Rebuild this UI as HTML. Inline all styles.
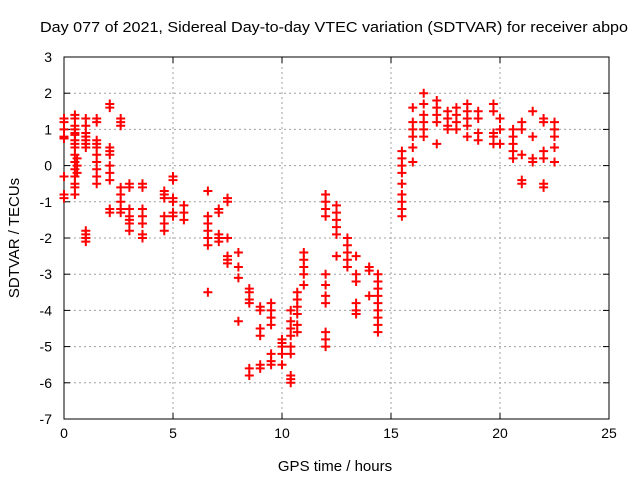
<!DOCTYPE html>
<html><head><meta charset="utf-8"><style>
body{margin:0;background:#fff}
svg{display:block;font-family:"Liberation Sans",sans-serif}
</style></head><body>
<svg id="c" width="640" height="480"></svg>
<script>
const xTicks=[0,5,10,15,20,25];
const yTicks=[3,2,1,0,-1,-2,-3,-4,-5,-6,-7];
const times=[0,0,0,0,0,0,0,0,
0.5,0.5,0.5,0.5,0.5,0.5,0.5,0.5,0.5,0.5,0.5,0.5,0.5,0.5,0.5,0.5,0.6,0.6,0.6,
1.0,1.0,1.0,1.0,1.0,1.0,1.0,1.0,1.0,1.0,1.0,
1.5,1.5,1.5,1.5,1.5,1.5,1.5,1.5,1.5,1.5,
2.1,2.1,2.1,2.1,2.1,2.1,2.1,2.1,2.1,2.1,
2.6,2.6,2.6,2.6,2.6,2.6,2.6,2.6,
3.0,3.0,3.0,3.0,3.0,3.0,3.0,
3.6,3.6,3.6,3.6,3.6,3.6,3.6,
4.6,4.6,4.6,4.6,4.6,4.6,
5.0,5.0,5.0,5.0,5.0,5.0,
5.5,5.5,5.5,
6.6,6.6,6.6,6.6,6.6,6.6,6.6,
7.1,7.1,7.1,7.1,7.1,
7.5,7.5,7.5,7.5,7.5,7.5,
8.0,8.0,8.0,8.0,
8.5,8.5,8.5,8.5,8.5,8.5,
9.0,9.0,9.0,9.0,9.0,9.0,
9.5,9.5,9.5,9.5,9.5,9.5,9.5,
10.0,10.0,10.0,10.0,10.0,
10.4,10.4,10.4,10.4,10.4,10.4,10.4,10.4,10.4,
10.7,10.7,10.7,10.7,10.7,10.7,
11.0,11.0,11.0,11.0,11.0,
12.0,12.0,12.0,12.0,12.0,12.0,12.0,12.0,12.0,12.0,12.0,
12.5,12.5,12.5,12.5,12.5,12.5,
13.0,13.0,13.0,13.0,13.0,
13.4,13.4,13.4,13.4,13.4,13.4,
14.0,14.0,14.0,
14.4,14.4,14.4,14.4,14.4,14.4,14.4,14.4,14.4,
15.5,15.5,15.5,15.5,15.5,15.5,15.5,15.5,15.5,
16.0,16.0,16.0,16.0,16.0,16.0,
16.5,16.5,16.5,16.5,16.5,16.5,
17.1,17.1,17.1,17.1,17.1,
17.6,17.6,17.6,17.6,
18.0,18.0,18.0,18.0,
18.5,18.5,18.5,18.5,18.5,
19.0,19.0,19.0,19.0,
19.7,19.7,19.7,19.7,19.7,
20.0,20.0,20.0,
20.6,20.6,20.6,20.6,20.6,
21.0,21.0,21.0,21.0,21.0,
21.5,21.5,21.5,21.5,
22.0,22.0,22.0,22.0,22.0,22.0,
22.5,22.5,22.5,22.5,22.5];
const values=[1.3,1.2,1.0,0.8,0.75,-0.3,-0.8,-0.9,
1.4,1.3,1.1,1.0,0.9,0.85,0.7,0.6,0.5,0.3,0.1,-0.1,-0.3,-0.5,-0.6,-0.8,0.0,0.2,-0.2,
1.3,1.1,0.9,0.8,0.7,0.6,0.5,-1.8,-1.9,-2.0,-2.1,
1.3,1.2,0.7,0.6,0.5,0.3,0.1,-0.1,-0.3,-0.5,
1.7,1.6,0.4,0.5,0.3,0.0,-0.2,-0.4,-1.2,-1.3,
1.3,1.2,1.1,-0.6,-0.8,-1.0,-1.2,-1.3,
-0.5,-0.6,-1.2,-1.4,-1.5,-1.6,-1.8,
-0.5,-0.6,-1.2,-1.4,-1.6,-1.9,-2.0,
-0.7,-0.8,-0.9,-1.4,-1.6,-1.8,
-0.3,-0.4,-0.9,-1.0,-1.3,-1.4,
-1.1,-1.3,-1.5,
-0.7,-1.4,-1.6,-1.8,-2.0,-2.2,-3.5,
-1.2,-1.3,-1.9,-2.0,-2.1,
-0.9,-1.0,-2.0,-2.5,-2.6,-2.7,
-2.4,-2.8,-3.1,-4.3,
-3.4,-3.5,-3.7,-3.8,-5.6,-5.8,
-3.9,-4.0,-4.5,-4.7,-5.6,-5.5,
-4.0,-4.2,-4.4,-5.2,-5.4,-5.5,-3.8,
-4.8,-5.0,-5.2,-5.5,-4.9,
-5.9,-5.8,-6.0,-4.0,-4.3,-4.5,-4.7,-5.0,-5.2,
-3.5,-3.7,-3.9,-4.1,-4.4,-4.6,
-2.4,-2.6,-2.8,-3.0,-3.3,
-0.8,-1.0,-1.2,-1.4,-3.0,-3.3,-3.6,-3.8,-4.6,-4.8,-5.0,
-1.1,-1.3,-1.5,-1.7,-1.9,-2.5,
-2.0,-2.2,-2.4,-2.6,-2.8,
-2.5,-3.0,-3.2,-3.8,-4.0,-4.1,
-2.8,-2.9,-3.6,
-3.0,-3.2,-3.4,-3.6,-3.8,-4.0,-4.2,-4.4,-4.6,
-1.0,-1.2,-1.4,-0.8,-0.5,-0.2,0.0,0.2,0.4,
0.1,0.5,0.8,1.0,1.2,1.6,
2.0,1.7,1.4,1.2,1.0,0.8,
1.8,1.6,1.4,1.2,0.6,
1.5,1.3,1.1,1.0,
1.6,1.4,1.2,1.0,
1.7,1.5,1.3,1.1,0.8,
1.5,1.3,0.9,0.7,
1.7,1.5,0.9,0.8,0.6,
1.3,1.0,0.6,
1.0,0.8,0.6,0.4,0.2,
1.2,1.0,0.3,-0.4,-0.5,
1.5,0.8,0.2,0.1,
1.3,1.2,0.4,0.2,-0.5,-0.6,
1.2,1.0,0.8,0.5,0.1];
const NS='http://www.w3.org/2000/svg';
const svg=document.getElementById('c');
const L=64,R=609,T=57,B=419;
const xs=t=>L+(t-0)/25*(R-L);
const ys=v=>T+(3-v)/10*(B-T);
function mk(tag,a,p){const e=document.createElementNS(NS,tag);for(const k in a)e.setAttribute(k,a[k]);(p||svg).appendChild(e);return e;}
const grid=mk('g',{});


xTicks.forEach(t=>{if(t>0&&t<25)mk('line',{x1:xs(t),x2:xs(t),y1:T,y2:B,stroke:'#a0a0a0','stroke-dasharray':'2,3'},grid);});
yTicks.forEach(v=>{if(v<3&&v>-7)mk('line',{x1:L,x2:R,y1:ys(v),y2:ys(v),stroke:'#a0a0a0','stroke-dasharray':'2,3'},grid);});
const ax=mk('g',{});


mk('rect',{x:L,y:T,width:R-L,height:B-T,fill:'none',stroke:'#000'},ax);
xTicks.forEach(t=>{
 mk('line',{x1:xs(t),x2:xs(t),y1:B,y2:B-6,stroke:'#000'},ax);
 mk('line',{x1:xs(t),x2:xs(t),y1:T,y2:T+6,stroke:'#000'},ax);
 const tx=mk('text',{x:xs(t),y:B+19,'text-anchor':'middle','font-size':14},ax);
 tx.textContent=t;
 
 
});
yTicks.forEach(v=>{
 mk('line',{x1:L,x2:L+6,y1:ys(v),y2:ys(v),stroke:'#000'},ax);
 mk('line',{x1:R,x2:R-6,y1:ys(v),y2:ys(v),stroke:'#000'},ax);
 const tx=mk('text',{x:L-12,y:ys(v)+5,'text-anchor':'end','font-size':14},ax);
 tx.textContent=v;
 
 
});
const pts=mk('g',{stroke:'#f00','stroke-width':2});


times.forEach((t,i)=>{
 const x=xs(t),y=ys(values[i]);
 const p=mk('path',{d:`M${x-4.5},${y}H${x+4.5}M${x},${y-4.5}V${y+4.5}`},pts);
 
 
});
const ti=mk('text',{x:40,y:32,'font-size':15,textLength:588,lengthAdjust:'spacingAndGlyphs'});
ti.textContent='Day 077 of 2021, Sidereal Day-to-day VTEC variation (SDTVAR) for receiver abpo';


const xl=mk('text',{x:335,y:471,'text-anchor':'middle','font-size':15});
xl.textContent='GPS time / hours';


const yl=mk('text',{x:0,y:0,'text-anchor':'middle','font-size':15,transform:'translate(19,238) rotate(-90)'});
yl.textContent='SDTVAR / TECUs';


</script>
</body></html>
